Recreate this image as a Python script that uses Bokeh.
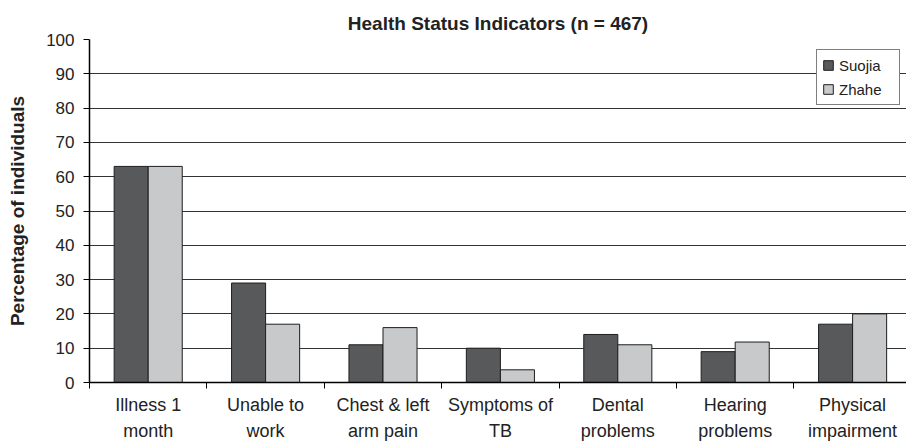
from bokeh.plotting import figure
from bokeh.models import FixedTicker, ColumnDataSource, Legend, LegendItem
from bokeh.embed import file_html
from bokeh.resources import INLINE

categories = ["Illness 1\nmonth", "Unable to\nwork", "Chest & left\narm pain", "Symptoms of\nTB",
              "Dental\nproblems", "Hearing\nproblems", "Physical\nimpairment"]
suojia = [63, 29, 11, 10, 14, 9, 17]
zhahe = [63, 17, 16, 3.7, 11, 11.8, 20]
y_ticks = [0, 10, 20, 30, 40, 50, 60, 70, 80, 90, 100]

FONT = "Liberation Sans"
TXT = "#222222"
bar_w = 0.29

centers = [i + 0.5 for i in range(len(categories))]
bounds = [float(i) for i in range(len(categories) + 1)]

src = ColumnDataSource(dict(
    xs=[c - bar_w / 2 for c in centers],
    xz=[c + bar_w / 2 for c in centers],
    suojia=suojia, zhahe=zhahe,
))

W, H = 906, 443
LEFT, TOP = 89, 39
p = figure(width=W, height=H, output_backend="svg", toolbar_location=None,
           x_range=(0, (W - LEFT) / 117.4), y_range=(0, 100),
           min_border_left=LEFT, min_border_right=0, min_border_top=TOP, min_border_bottom=0,
           title="Health Status Indicators (n = 467)")
p.outline_line_color = None
p.background_fill_color = "white"
p.border_fill_color = "white"

p.title.align = "center"
p.title.text_font = FONT
p.title.text_font_size = "19px"
p.title.text_font_style = "bold"
p.title.text_color = TXT
p.title.offset = 0
p.title.standoff = 11

r1 = p.vbar(x="xs", top="suojia", width=bar_w, source=src, fill_color="#58595b",
            line_color="#1e1e1e", line_width=1)
r2 = p.vbar(x="xz", top="zhahe", width=bar_w, source=src, fill_color="#c8c9cb",
            line_color="#1e1e1e", line_width=1)

# x axis
xa = p.xaxis[0]
xa.ticker = FixedTicker(ticks=centers, minor_ticks=bounds)
xa.major_label_overrides = {c: lab for c, lab in zip(centers, categories)}
xa.major_tick_out = 0
xa.major_tick_in = 0
xa.minor_tick_out = 6
xa.minor_tick_in = 0
xa.minor_tick_line_color = "black"
xa.minor_tick_line_width = 1
xa.axis_line_color = "black"
xa.axis_line_width = 1.5
xa.major_label_text_font = FONT
xa.major_label_text_font_size = "18px"
xa.major_label_text_color = TXT
xa.major_label_text_line_height = 1.3
xa.major_label_standoff = 6

# y axis
ya = p.yaxis[0]
ya.ticker = FixedTicker(ticks=y_ticks)
ya.major_tick_out = 6
ya.major_tick_in = 0
ya.minor_tick_out = 0
ya.minor_tick_in = 0
ya.major_tick_line_color = "black"
ya.axis_line_color = "black"
ya.axis_line_width = 1.5
ya.major_label_text_font = FONT
ya.major_label_text_font_size = "17px"
ya.major_label_text_color = TXT
ya.major_label_standoff = 9
ya.axis_label = "Percentage of individuals"
ya.axis_label_text_font = FONT
ya.axis_label_text_font_size = "19px"
ya.axis_label_text_font_style = "bold"
ya.axis_label_text_color = TXT
ya.axis_label_standoff = 15

p.xgrid.grid_line_color = None
p.ygrid.ticker = FixedTicker(ticks=y_ticks[1:])
p.ygrid.grid_line_color = "#333333"
p.ygrid.grid_line_width = 1

legend = Legend(items=[LegendItem(label="Suojia", renderers=[r1]),
                       LegendItem(label="Zhahe", renderers=[r2])],
                location=(727, 277), margin=0, padding=5, spacing=4,
                glyph_width=12, glyph_height=12, label_standoff=5, label_width=55,
                label_height=20,
                label_text_font=FONT, label_text_font_size="15px", label_text_color=TXT,
                border_line_color="black", border_line_width=1,
                background_fill_color="white", background_fill_alpha=1)
p.add_layout(legend, "center")

open("out.html", "w").write(file_html(p, INLINE))
